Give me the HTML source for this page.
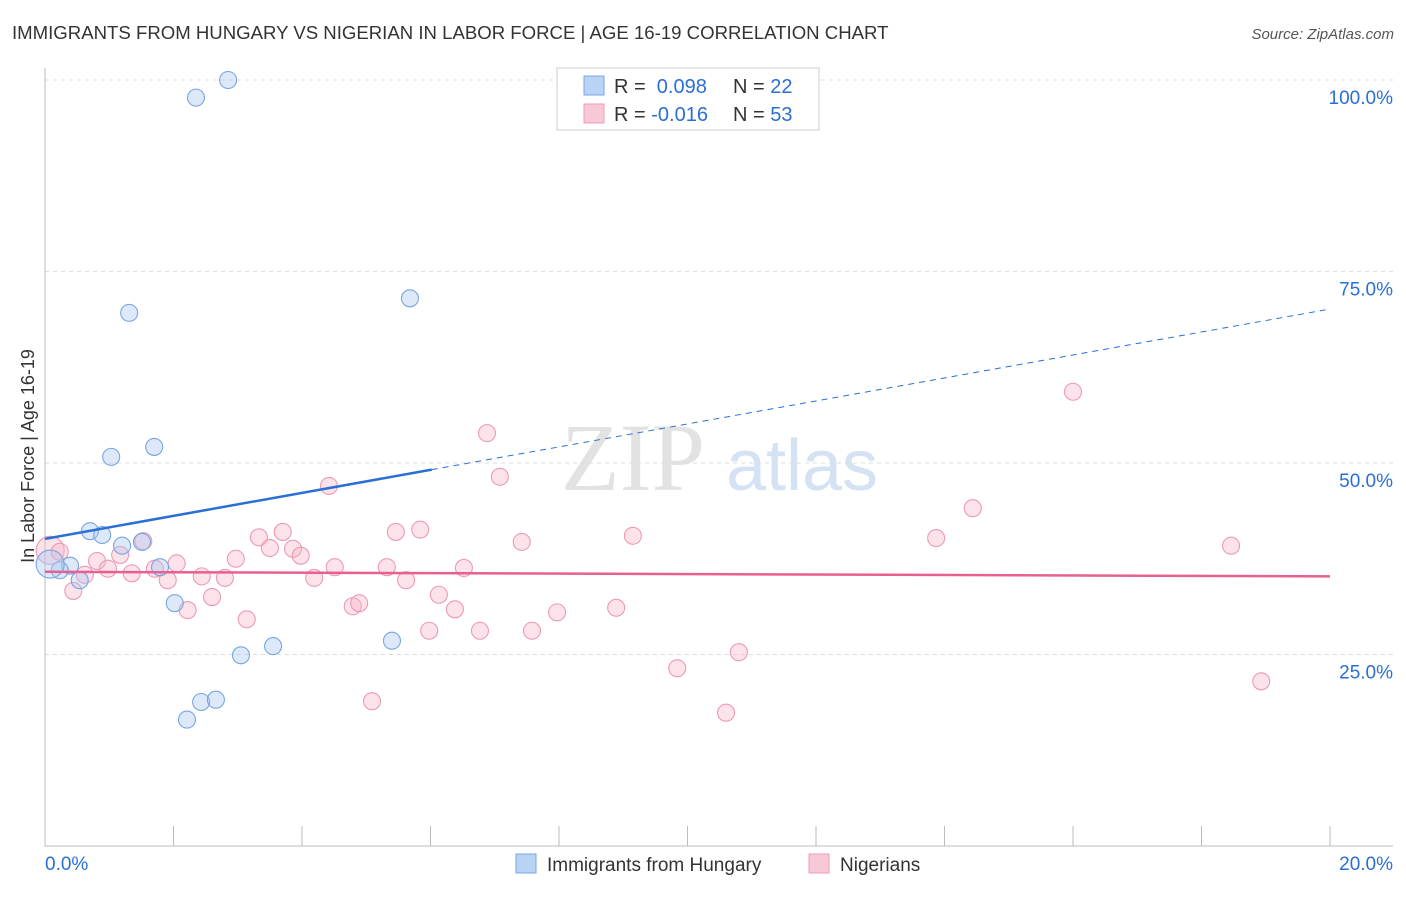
<!DOCTYPE html>
<html><head><meta charset="utf-8"><style>
body{margin:0;background:#fff;font-family:"Liberation Sans",sans-serif;}
</style></head><body>
<svg id="chart" width="1406" height="892" xmlns="http://www.w3.org/2000/svg" font-family="Liberation Sans, sans-serif">
<text x="12" y="39" font-size="18.6" fill="#333">IMMIGRANTS FROM HUNGARY VS NIGERIAN IN LABOR FORCE | AGE 16-19 CORRELATION CHART</text>
<text x="1394" y="39" font-size="15" fill="#555" text-anchor="end" font-style="italic">Source: ZipAtlas.com</text>
<g>
<text x="633" y="490" font-size="96" fill="#e2e2e2" font-family="Liberation Serif, serif" text-anchor="middle">ZIP</text>
<text x="802" y="490" font-size="72" fill="#d4e2f4" text-anchor="middle">atlas</text>
</g>
<g id="grid"></g>
<g id="axes"></g>
<g id="marks"></g>
<text transform="translate(34,456) rotate(-90)" font-size="18" fill="#333" text-anchor="middle">In Labor Force | Age 16-19</text>
<g>
<rect x="557" y="68" width="262" height="62" fill="#fff" stroke="#ccc"/>
<rect x="584" y="76" width="20" height="19" fill="#b9d3f5" stroke="#7aa6e2"/>
<rect x="584" y="104" width="20" height="19" fill="#f9c8d6" stroke="#ee9cb7"/>
<text x="614" y="93" font-size="20" fill="#333">R = <tspan fill="#2a6fd6">&#160;0.098</tspan><tspan x="733">N = </tspan><tspan fill="#2a6fd6">22</tspan></text>
<text x="614" y="121" font-size="20" fill="#333">R = <tspan fill="#2a6fd6">-0.016</tspan><tspan x="733">N = </tspan><tspan fill="#2a6fd6">53</tspan></text>
</g>
<g>
<rect x="516" y="854" width="20" height="19" fill="#b9d3f5" stroke="#7aa6e2"/>
<text x="547" y="871" font-size="19" fill="#333">Immigrants from Hungary</text>
<rect x="809" y="854" width="20" height="19" fill="#f9c8d6" stroke="#ee9cb7"/>
<text x="840" y="871" font-size="19" fill="#333">Nigerians</text>
</g>
</svg>
<script>
const xTicks=[0,20];
const yTicks=[25,50,75,100];
const hungaryX=[2.85,2.35,1.31,5.68,1.03,1.70,0.70,0.89,1.20,1.51,1.79,0.39,0.23,0.54,0.08,2.02,3.05,3.55,5.40,2.43,2.66,2.21];
const hungaryY=[100,97.7,69.6,71.5,50.8,52.1,41.1,40.6,39.2,39.7,36.4,36.6,36.0,34.7,36.8,31.7,24.9,26.1,26.8,18.8,19.1,16.5];
const nigerianX=[0.08,0.23,0.44,0.62,0.81,0.98,1.17,1.35,1.53,1.71,1.91,2.05,2.22,2.44,2.60,2.80,2.97,3.14,3.33,3.50,3.70,3.86,3.98,4.19,4.42,4.51,4.79,4.89,5.09,5.32,5.46,5.62,5.84,5.98,6.13,6.38,6.52,6.77,6.88,7.08,7.42,7.58,7.97,8.89,9.15,9.84,10.60,10.80,13.87,14.44,16.00,18.46,18.93];
const nigerianY=[38.6,38.4,33.3,35.4,37.2,36.2,38.0,35.6,39.8,36.2,34.7,36.9,30.8,35.2,32.5,35.0,37.5,29.6,40.3,38.9,41.0,38.8,37.9,35.0,47.0,36.4,31.3,31.7,18.9,36.4,41.0,34.7,41.3,28.1,32.8,30.9,36.3,28.1,53.9,48.2,39.7,28.1,30.5,31.1,40.5,23.2,17.4,25.3,40.2,44.1,59.3,39.2,21.5];
const hungaryTrend=[40.1,70.1];
const nigerianTrend=[35.8,35.2];
const hungarySolidEnd=6.02;
const NS="http://www.w3.org/2000/svg";
const X=v=>45+v*1285/20;
const Y=v=>846-v*7.66;
function mk(tag,attrs,parent){const e=document.createElementNS(NS,tag);for(const k in attrs)e.setAttribute(k,attrs[k]);parent.appendChild(e);return e;}
const grid=document.getElementById('grid'),axes=document.getElementById('axes'),marks=document.getElementById('marks');
yTicks.forEach(t=>{
 const l=mk('line',{x1:45,x2:1393,y1:Y(t),y2:Y(t),stroke:'#ddd','stroke-dasharray':'4,4'},grid);
 
 
 const tx=mk('text',{x:1393,y:Y(t)+24,'font-size':19,fill:'#2a6fd6','text-anchor':'end'},axes);
 tx.textContent=t.toFixed(1)+'%';
 
 
});
const ax=mk('path',{d:'M45,68V846H1393',stroke:'#bbb',fill:'none'},axes);


for(let i=0;i<=10;i++){const tk=mk('line',{x1:X(i*2),x2:X(i*2),y1:826,y2:846,stroke:'#bbb'},axes);
 
 }
xTicks.forEach((t,i)=>{const tx=mk('text',{x:i?1393:45,y:870,'font-size':19,fill:'#2a6fd6','text-anchor':i?'end':'start'},axes);
 tx.textContent=t.toFixed(1)+'%';
 
 });
function pts(xs,ys,fill,stroke,name){xs.forEach((x,i)=>{const big=x<0.15;const c=mk('circle',{cx:X(x),cy:Y(ys[i]),r:big?14:8.5,fill:fill,'fill-opacity':0.4,stroke:stroke,'stroke-width':1.1},marks);
 
 });}
pts(nigerianX,nigerianY,'#f7b6c9','#ec9ab6','nigerian');
pts(hungaryX,hungaryY,'#aac9f0','#78a5e2','hungary');
const ys=v=>hungaryTrend[0]+(hungaryTrend[1]-hungaryTrend[0])*v/20;
const hl=mk('line',{x1:X(0),y1:Y(ys(0)),x2:X(hungarySolidEnd),y2:Y(ys(hungarySolidEnd)),stroke:'#2a6fd6','stroke-width':2.5},marks);


const hd=mk('line',{x1:X(hungarySolidEnd),y1:Y(ys(hungarySolidEnd)),x2:X(20),y2:Y(ys(20)),stroke:'#2a6fd6','stroke-width':1,'stroke-dasharray':'6,5'},marks);


const nl=mk('line',{x1:X(0),y1:Y(nigerianTrend[0]),x2:X(20),y2:Y(nigerianTrend[1]),stroke:'#e8608f','stroke-width':2.5},marks);


</script>
</body></html>
